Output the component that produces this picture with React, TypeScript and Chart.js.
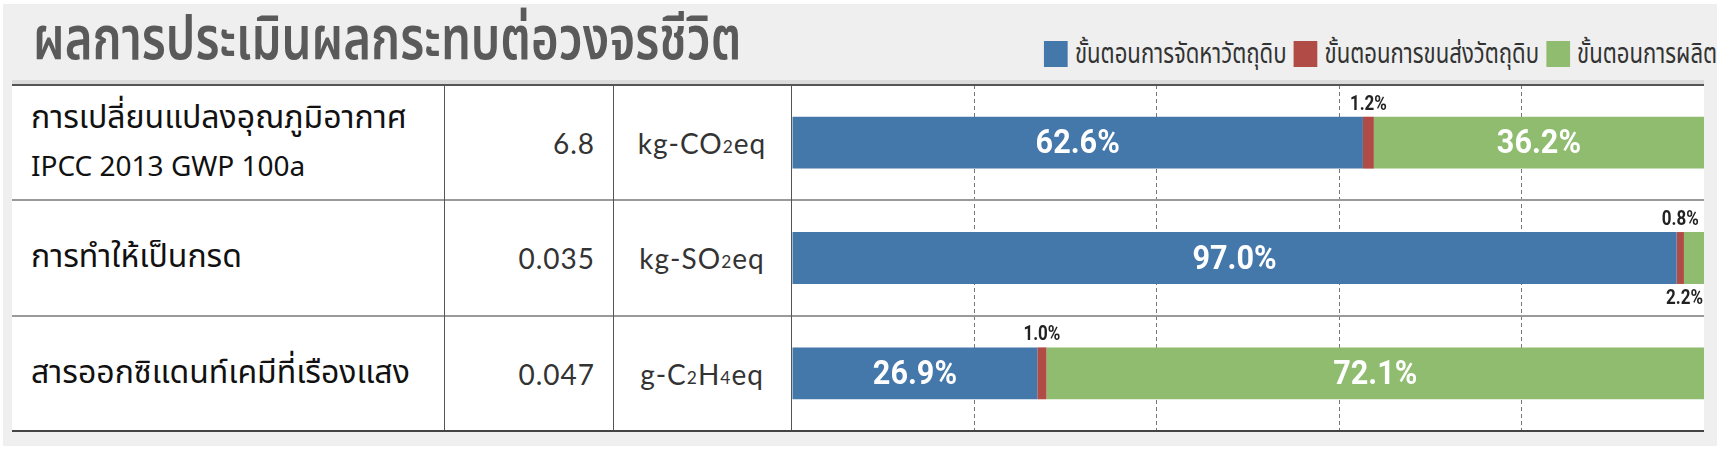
import React, { useEffect, useRef } from "react";
import { Chart, registerables } from "chart.js";

Chart.register(...registerables);

// ---------- data ----------
const chartTitle = "ผลการประเมินผลกระทบต่อวงจรชีวิต";
const categoryLines = [
  ["การเปลี่ยนแปลงอุณภูมิอากาศ", "IPCC 2013 GWP 100a"],
  ["การทำให้เป็นกรด"],
  ["สารออกซิแดนท์เคมีที่เรืองแสง"],
];
const impactValues = ["6.8", "0.035", "0.047"];
const impactUnits = ["kg-CO2eq", "kg-SO2eq", "g-C2H4eq"];
const seriesNames = [
  "ขั้นตอนการจัดหาวัตถุดิบ",
  "ขั้นตอนการขนส่งวัตถุดิบ",
  "ขั้นตอนการผลิต",
];
const rawMaterialShares = [62.6, 97.0, 26.9];
const transportShares = [1.2, 0.8, 1.0];
const productionShares = [36.2, 2.2, 72.1];
const shareTicks = [0, 20, 40, 60, 80, 100];

// ---------- styles ----------
const COLORS = ["#4477aa", "#b04b45", "#8fbc6f"];
const THAI = '"Noto Sans Thai", "Noto Sans Thai Looped", "Loma", "Garuda", "Noto Sans", sans-serif';
const LABEL_FONT = "Roboto";
const hasThai = (s: string) => /[\u0E00-\u0E7F]/.test(s);

const labelPlugin = {
  id: "segmentLabels",
  afterDatasetsDraw(chart: any) {
    const ctx = chart.ctx;
    const area = chart.chartArea;
    chart.data.datasets.forEach((ds: any, di: number) => {
      const meta = chart.getDatasetMeta(di);
      meta.data.forEach((bar: any, j: number) => {
        const v = ds.data[j];
        const p = bar.getProps(["x", "base", "y", "height"], true);
        const left = Math.min(p.x, p.base);
        const right = Math.max(p.x, p.base);
        const w = right - left;
        const text = v.toFixed(1) + "%";
        ctx.save();
        ctx.textAlign = "center";
        ctx.textBaseline = "middle";
        if (w > 60) {
          ctx.font = `bold 34px ${LABEL_FONT}`;
          ctx.fillStyle = "#ffffff";
          ctx.translate((left + right) / 2, p.y + 2);
          ctx.scale(0.9, 1);
          ctx.fillText(text, 0, 0);
        } else {
          const sx = 0.85;
          ctx.font = `bold 20px ${LABEL_FONT}`;
          ctx.fillStyle = "#222222";
          const tw = ctx.measureText(text).width * sx;
          let cx = (left + right) / 2;
          cx = Math.min(cx, area.right - tw / 2 - 1);
          const above = di === 1;
          const cy = above ? p.y - p.height / 2 - 12 : p.y + p.height / 2 + 15;
          ctx.translate(cx, cy);
          ctx.scale(sx, 1);
          ctx.fillText(text, 0, 0);
        }
        ctx.restore();
      });
    });
  },
};

function Unit({ text }: { text: string }) {
  const parts = text.split(/(\d)/).filter((s) => s.length);
  return (
    <span>
      {parts.map((s, i) =>
        /\d/.test(s) ? (
          <span key={i} style={{ fontSize: "0.62em", verticalAlign: "0.05em" }}>
            {s}
          </span>
        ) : (
          <span key={i}>{s}</span>
        )
      )}
    </span>
  );
}

export default function App() {
  const canvasRef = useRef<HTMLCanvasElement | null>(null);

  useEffect(() => {
    const canvas = canvasRef.current;
    if (!canvas) return;
    const chart = new Chart(canvas, {
      type: "bar",
      data: {
        labels: categoryLines.map((l) => l.join(" ")),
        datasets: [
          { label: seriesNames[0], data: rawMaterialShares, backgroundColor: COLORS[0] },
          { label: seriesNames[1], data: transportShares, backgroundColor: COLORS[1] },
          { label: seriesNames[2], data: productionShares, backgroundColor: COLORS[2] },
        ],
      },
      options: {
        indexAxis: "y",
        animation: false,
        responsive: true,
        maintainAspectRatio: false,
        layout: { padding: 0 },
        datasets: { bar: { categoryPercentage: 1, barPercentage: 0.45, borderWidth: 0 } },
        plugins: { legend: { display: false }, tooltip: { enabled: false } },
        scales: {
          x: {
            stacked: true,
            min: 0,
            max: 100,
            afterBuildTicks: (axis: any) => {
              axis.ticks = shareTicks.map((v) => ({ value: v }));
            },
            ticks: { display: false },
            grid: {
              drawTicks: false,
              lineWidth: 1,
              color: (c: any) =>
                c.tick && (c.tick.value === 0 || c.tick.value === 100) ? "rgba(0,0,0,0)" : "#777777",
            },
            border: { display: false, dash: [4, 3] },
          },
          y: { stacked: true, display: false },
        },
      },
      plugins: [labelPlugin],
    });
    return () => chart.destroy();
  }, []);

  const rowTops = [85, 200, 316];
  const rowH = 115;
  const legendScale = 0.79;

  return (
    <div style={{ position: "absolute", left: 0, top: 0, width: 1723, height: 453, background: "#ffffff", overflow: "hidden" }}>
      <div style={{ position: "absolute", left: 3, top: 4, width: 1714, height: 442, background: "#efefef" }} />
      {/* title */}
      <div style={{ position: "absolute", left: 33, top: 8, fontFamily: THAI, fontSize: 60, fontWeight: 600, color: "#5a5a5a", whiteSpace: "nowrap", lineHeight: "66px", transform: "scaleX(0.79)", transformOrigin: "left center" }}>
        {chartTitle}
      </div>
      {/* legend */}
      <div style={{ position: "absolute", right: 6, top: 41, height: 26, display: "flex", alignItems: "center", fontFamily: THAI, fontSize: 28, color: "#333", whiteSpace: "nowrap", transform: `scaleX(${legendScale})`, transformOrigin: "right center" }}>
        {seriesNames.map((n, i) => (
          <div key={i} style={{ display: "flex", alignItems: "center", marginLeft: i ? 7 / legendScale : 0 }}>
            <div style={{ width: 24 / legendScale, height: 26, background: COLORS[i], marginRight: 7 / legendScale }} />
            <span>{n}</span>
          </div>
        ))}
      </div>
      {/* table */}
      <div style={{ position: "absolute", left: 12, top: 80, width: 1692, height: 4, background: "#dcdcdc" }} />
      <div style={{ position: "absolute", left: 12, top: 85, width: 1692, height: 346, background: "#ffffff" }} />
      <div style={{ position: "absolute", left: 792, top: 85, width: 912, height: 346 }}>
        <canvas ref={canvasRef} />
      </div>
      {categoryLines.map((lines, i) => (
        <React.Fragment key={i}>
          <div style={{ position: "absolute", left: 31, top: rowTops[i], height: rowH, display: "flex", flexDirection: "column", justifyContent: "center", fontFamily: THAI, color: "#111", lineHeight: "49px", whiteSpace: "nowrap" }}>
            {lines.map((l, k) => (
              <div key={k} style={{ fontSize: hasThai(l) ? 32 : 28 }}>{l}</div>
            ))}
          </div>
          <div style={{ position: "absolute", left: 444, width: 151, top: rowTops[i], height: rowH, display: "flex", alignItems: "center", justifyContent: "flex-end", fontFamily: "Lato, sans-serif", fontSize: 28, letterSpacing: 1, color: "#333" }}>
            {impactValues[i]}
          </div>
          <div style={{ position: "absolute", left: 613, width: 178, top: rowTops[i], height: rowH, display: "flex", alignItems: "center", justifyContent: "center", fontFamily: "Lato, sans-serif", fontSize: 28, letterSpacing: 1, color: "#333" }}>
            <Unit text={impactUnits[i]} />
          </div>
        </React.Fragment>
      ))}
      {/* lines */}
      <div style={{ position: "absolute", left: 12, top: 84, width: 1692, height: 2, background: "#555" }} />
      <div style={{ position: "absolute", left: 12, top: 199, width: 1692, height: 2, background: "#9a9a9a" }} />
      <div style={{ position: "absolute", left: 12, top: 315, width: 1692, height: 2, background: "#9a9a9a" }} />
      <div style={{ position: "absolute", left: 12, top: 430, width: 1692, height: 2, background: "#444" }} />
      {[444, 613, 791].map((x) => (
        <div key={x} style={{ position: "absolute", left: x, top: 86, width: 1, height: 344, background: "#555" }} />
      ))}
    </div>
  );
}
